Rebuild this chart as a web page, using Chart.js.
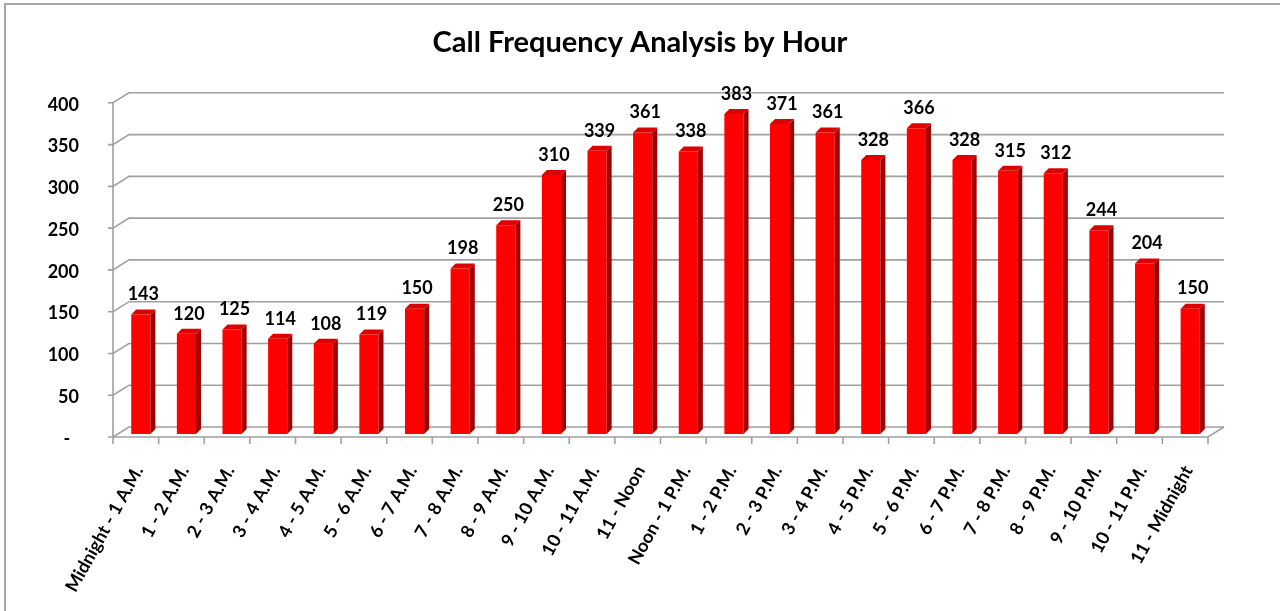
<!DOCTYPE html>
<html>
<head>
<meta charset="utf-8">
<script src="https://cdn.jsdelivr.net/npm/chart.js@4.4.1/dist/chart.umd.min.js"></script>
<style>
  html, body { margin: 0; padding: 0; background: #fff; overflow: hidden; }
  #frame { position: absolute; left: 4px; top: 3px; width: 1400px; height: 700px;
           border-left: 2px solid #a6a6a6; border-top: 2px solid #a6a6a6; }
  #wrap { position: absolute; left: 0; top: 0; width: 1280px; height: 611px; }
</style>
</head>
<body>
<div id="frame"></div>
<div id="wrap"><canvas id="myChart" width="1280" height="611"></canvas></div>
<script>
// Calls per hour of the day
const hours = ['Midnight - 1 A.M.', '1 - 2 A.M.', '2 - 3 A.M.', '3 - 4 A.M.', '4 - 5 A.M.', '5 - 6 A.M.',
    '6 - 7 A.M.', '7 - 8 A.M.', '8 - 9 A.M.', '9 - 10 A.M.', '10 - 11 A.M.', '11 - Noon',
    'Noon - 1 P.M.', '1 - 2 P.M.', '2 - 3 P.M.', '3 - 4 P.M.', '4 - 5 P.M.', '5 - 6 P.M.',
    '6 - 7 P.M.', '7 - 8 P.M.', '8 - 9 P.M.', '9 - 10 P.M.', '10 - 11 P.M.', '11 - Midnight'];
const calls = [143, 120, 125, 114, 108, 119, 150, 198, 250, 310, 339, 361,
    338, 383, 371, 361, 328, 366, 328, 315, 312, 244, 204, 150];
const yTicks = [0, 50, 100, 150, 200, 250, 300, 350, 400];

const FONT = 'Lato, "Open Sans", sans-serif';
const GRID = '#a0a0a0';
// depth offsets relative to the plane the bars stand in
const FRONT = { dx: -5, dy: 3 };
const BACK = { dx: 11, dy: -7 };

// gridlines on the back wall, floor and front axes (fake 3D like Excel)
const wallsPlugin = {
    id: 'walls',
    beforeDatasetsDraw(chart) {
        const ctx = chart.ctx;
        const y = chart.scales.y;
        const left = chart.chartArea.left, right = chart.chartArea.right;
        ctx.save();
        ctx.strokeStyle = GRID;
        ctx.lineWidth = 1.6;
        yTicks.forEach(v => {
            const py = y.getPixelForValue(v);
            ctx.beginPath();
            ctx.moveTo(left + FRONT.dx - 5, py + FRONT.dy);   // tick mark
            ctx.lineTo(left + FRONT.dx, py + FRONT.dy);
            ctx.lineTo(left + BACK.dx, py + BACK.dy);          // side wall diagonal
            ctx.lineTo(right + BACK.dx, py + BACK.dy);         // back wall line
            ctx.stroke();
        });
        const p0 = y.getPixelForValue(0), pTop = y.getPixelForValue(400);
        ctx.beginPath();
        ctx.moveTo(left + FRONT.dx, pTop + FRONT.dy);          // front y axis
        ctx.lineTo(left + FRONT.dx, p0 + FRONT.dy);
        ctx.lineTo(right + FRONT.dx, p0 + FRONT.dy);           // front floor edge
        ctx.lineTo(right + BACK.dx, p0 + BACK.dy);
        ctx.stroke();
        // category tick marks
        for (let i = 0; i <= hours.length; i++) {
            const px = left + (right - left) * i / hours.length + FRONT.dx;
            ctx.beginPath();
            ctx.moveTo(px, p0 + FRONT.dy);
            ctx.lineTo(px, p0 + FRONT.dy + 7);
            ctx.stroke();
        }
        ctx.restore();
    }
};

// side and top faces of the bars, plus value labels
const barsPlugin = {
    id: 'bars3d',
    afterDatasetsDraw(chart) {
        const ctx = chart.ctx;
        const meta = chart.getDatasetMeta(0);
        const d = 5, h = 5;
        ctx.save();
        meta.data.forEach((bar, i) => {
            const l = bar.x - bar.width / 2, r = bar.x + bar.width / 2;
            ctx.fillStyle = '#a30000';
            ctx.beginPath();
            ctx.moveTo(r, bar.y);
            ctx.lineTo(r + d, bar.y - h);
            ctx.lineTo(r + d, bar.base - h);
            ctx.lineTo(r, bar.base);
            ctx.closePath();
            ctx.fill();
            ctx.fillStyle = '#dd0000';
            ctx.beginPath();
            ctx.moveTo(l, bar.y);
            ctx.lineTo(l + d, bar.y - h);
            ctx.lineTo(r + d, bar.y - h);
            ctx.lineTo(r, bar.y);
            ctx.closePath();
            ctx.fill();

            ctx.fillStyle = '#000';
            ctx.font = 'bold 18px ' + FONT;
            ctx.textAlign = 'center';
            ctx.textBaseline = 'middle';
            ctx.fillText(calls[i], bar.x + 2.5, bar.y - 20);
        });
        ctx.restore();
    }
};

const ctx = document.getElementById('myChart');
new Chart(ctx, {
    type: 'bar',
    data: {
        labels: hours,
        datasets: [{
            label: 'Calls',
            data: calls,
            backgroundColor: '#ff0000',
            borderWidth: 0,
            categoryPercentage: 1,
            barPercentage: 0.42
        }]
    },
    options: {
        responsive: false,
        animation: false,
        layout: { padding: 0 },
        scales: {
            x: {
                grid: { display: false },
                border: { display: false },
                ticks: {
                    color: '#000',
                    font: { family: FONT, size: 18, weight: 'bold' },
                    minRotation: 61,
                    maxRotation: 61,
                    autoSkip: false,
                    padding: 20,
                    labelOffset: -2
                },
                afterFit(scale) { scale.height = 177; }
            },
            y: {
                min: 0,
                max: 400,
                grid: { display: false },
                border: { display: false },
                ticks: {
                    stepSize: 50,
                    color: '#000',
                    font: { family: FONT, size: 18, weight: 'bold' },
                    padding: 31,
                    labelOffset: 5,
                    callback: v => v === 0 ? '-  ' : v
                },
                afterFit(scale) { scale.width = 118; }
            },
            // empty right-hand space, keeps the title centred on the page
            y2: {
                position: 'right',
                grid: { display: false },
                border: { display: false },
                ticks: { display: false },
                afterFit(scale) { scale.width = 67; }
            }
        },
        plugins: {
            legend: { display: false },
            tooltip: { enabled: false },
            title: {
                display: true,
                text: 'Call Frequency Analysis by Hour',
                color: '#000',
                font: { family: FONT, size: 29, weight: 'bold', lineHeight: 1.2 },
                padding: { top: 25, bottom: 40 }
            }
        }
    },
    plugins: [wallsPlugin, barsPlugin]
});
</script>
</body>
</html>
